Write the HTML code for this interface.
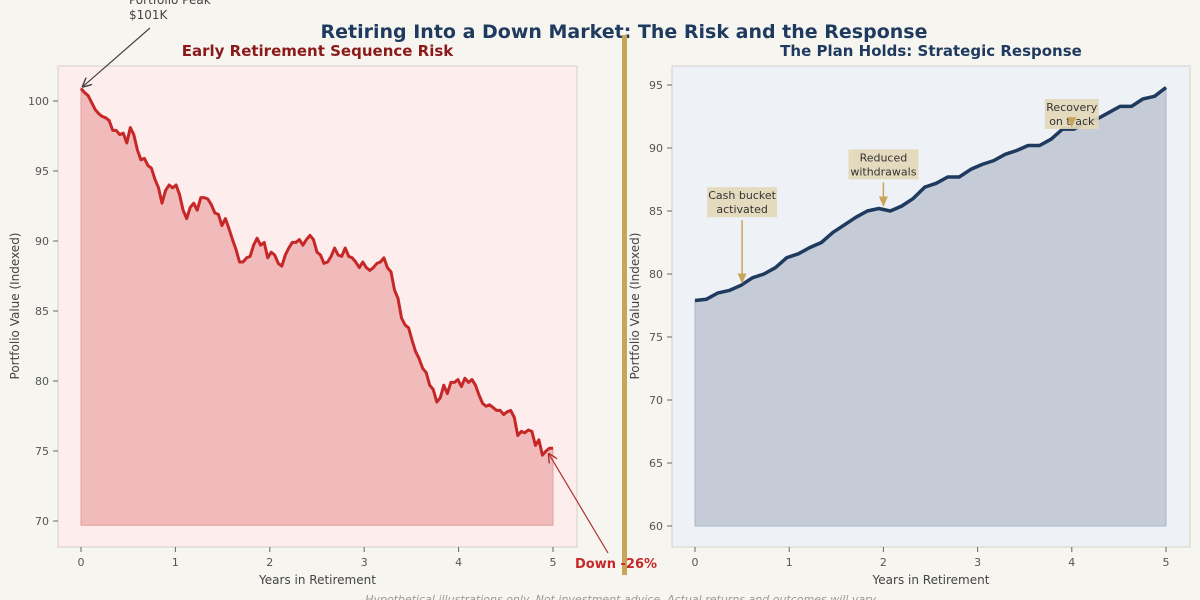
<!DOCTYPE html>
<html><head><meta charset="utf-8"><style>
html,body{margin:0;padding:0;background:#f7f5f0;}
svg{display:block;font-family:"DejaVu Sans","Liberation Sans",sans-serif;}
</style></head><body>
<svg id="c" width="1200" height="600" viewBox="0 0 1200 600">
<text x="624" y="38" text-anchor="middle" font-size="19" font-weight="bold" fill="#1f3a5f">Retiring Into a Down Market: The Risk and the Response</text>
<rect x="622" y="35" width="5" height="540" fill="#c9a55a"/>
<text x="622" y="603" text-anchor="middle" font-size="11" font-style="italic" fill="#999">Hypothetical illustrations only. Not investment advice. Actual returns and outcomes will vary.</text>
</svg>
<script>
const leftValues=[100.9,100.6,100.4,99.9,99.4,99.1,98.9,98.8,98.6,97.9,97.9,97.6,97.7,97.0,98.1,97.6,96.5,95.8,95.9,95.4,95.2,94.4,93.8,92.7,93.6,94.0,93.8,94.0,93.3,92.2,91.6,92.4,92.7,92.2,93.1,93.1,93.0,92.6,92.0,91.9,91.1,91.6,90.9,90.1,89.4,88.5,88.5,88.8,88.9,89.7,90.2,89.7,89.9,88.8,89.2,89.0,88.4,88.2,89.0,89.5,89.9,89.9,90.1,89.7,90.1,90.4,90.1,89.2,89.0,88.4,88.5,88.9,89.5,89.0,88.9,89.5,88.9,88.8,88.5,88.1,88.5,88.1,87.9,88.1,88.4,88.5,88.8,88.1,87.8,86.5,85.9,84.5,84.0,83.8,82.9,82.1,81.6,80.9,80.6,79.7,79.4,78.5,78.8,79.7,79.1,79.9,79.9,80.1,79.6,80.2,79.9,80.1,79.7,79.0,78.4,78.2,78.3,78.1,77.9,77.9,77.6,77.8,77.9,77.4,76.1,76.4,76.3,76.5,76.4,75.4,75.8,74.7,75.0,75.2,75.2];
const rightValues=[77.9,78.0,78.5,78.7,79.1,79.7,80.0,80.5,81.3,81.6,82.1,82.5,83.3,83.9,84.5,85.0,85.2,85.0,85.4,86.0,86.9,87.2,87.7,87.7,88.3,88.7,89.0,89.5,89.8,90.2,90.2,90.7,91.5,91.5,92.0,92.3,92.8,93.3,93.3,93.9,94.1,94.8];
const xTicks=[0,1,2,3,4,5];
const leftYTicks=[70,75,80,85,90,95,100];
const rightYTicks=[60,65,70,75,80,85,90,95];
const rightNotes=["Cash bucket|activated","Reduced|withdrawals","Recovery|on track"];
const rightNoteYears=[0.5,2.0,4.0];
const rightNoteLabelValues=[85.7,88.7,92.7];

const svg=document.getElementById('c');
const NS='http://www.w3.org/2000/svg';
function mk(tag,attrs,parent){const e=document.createElementNS(NS,tag);for(const k in attrs)e.setAttribute(k,attrs[k]);(parent||svg).appendChild(e);return e;}

function panel(o){
  const g=mk('g',{});
  
  
  const X=v=>o.x0+(v-0)*(o.x5-o.x0)/5;
  const Y=v=>o.yA+(v-o.vA)*(o.yB-o.yA)/(o.vB-o.vA);
  const bg=mk('rect',{x:o.L,y:66,width:o.R-o.L,height:481,fill:o.bg,stroke:'#d4d0cc','stroke-width':1},g);
  
  
  const n=o.vals.length;
  const pts=o.vals.map((v,i)=>[X(5*i/(n-1)),Y(v)]);
  let d='M'+pts.map(p=>p[0].toFixed(1)+','+p[1].toFixed(1)).join('L');
  const base=Y(o.base);
  const area=mk('path',{d:d+'L'+X(5)+','+base+'L'+X(0)+','+base+'Z',fill:o.fill,stroke:o.fillEdge,'stroke-width':1},g);
  
  
  const line=mk('path',{d:d,fill:'none',stroke:o.line,'stroke-width':o.lw,'stroke-linejoin':'round'},g);
  
  
  xTicks.forEach(t=>{
    mk('line',{x1:X(t),x2:X(t),y1:547,y2:552,stroke:'#666'},g);
    const tx=mk('text',{x:X(t),y:566,'text-anchor':'middle','font-size':11,fill:'#555'},g);
    tx.textContent=t;
    
    
  });
  o.yt.forEach(t=>{
    mk('line',{x1:o.L-5,x2:o.L,y1:Y(t),y2:Y(t),stroke:'#666'},g);
    const tx=mk('text',{x:o.L-9,y:Y(t)+4,'text-anchor':'end','font-size':11,fill:'#555'},g);
    tx.textContent=t;
    
    
  });
  const xl=mk('text',{x:(o.L+o.R)/2,y:584,'text-anchor':'middle','font-size':12,fill:'#444'},g);
  xl.textContent='Years in Retirement';
  
  
  const yl=mk('text',{x:o.yl,y:306,'text-anchor':'middle','font-size':12,fill:'#444',transform:'rotate(-90 '+o.yl+' 306)'},g);
  yl.textContent='Portfolio Value (Indexed)';
  
  
  const st=mk('text',{x:(o.L+o.R)/2,y:56,'text-anchor':'middle','font-size':15,'font-weight':'bold',fill:o.tc},g);
  st.textContent=o.title;
  
  
  return {g,X,Y};
}

mk('defs',{}).innerHTML='<marker id="ah" markerWidth="8" markerHeight="8" refX="7" refY="4" orient="auto"><path d="M0,0L8,4L0,8" fill="none" stroke="#444" stroke-width="1.2"/></marker><marker id="ahr" markerWidth="8" markerHeight="8" refX="7" refY="4" orient="auto"><path d="M0,0L8,4L0,8" fill="none" stroke="#b03030" stroke-width="1.2"/></marker><marker id="ahg" markerWidth="8" markerHeight="8" refX="6" refY="4" orient="auto"><path d="M0,1L7,4L0,7Z" fill="#c9a55a"/></marker>';

const Lp=panel({name:'left-panel',L:58,R:577,x0:81,x5:553,yA:101,vA:100,yB:521,vB:70,bg:'#fdeeed',vals:leftValues,base:69.7,fill:'#f1babb',fillEdge:'#e2a0a0',line:'#c62828',lw:3,yt:leftYTicks,yl:19,title:'Early Retirement Sequence Risk',tc:'#8b1a1a'});
const Rp=panel({name:'right-panel',L:672,R:1190,x0:695,x5:1166,yA:85,vA:95,yB:526,vB:60,bg:'#eef2f7',vals:rightValues,base:60,fill:'#c5ccd8',fillEdge:'#a8b4c8',line:'#1f3a5f',lw:3.5,yt:rightYTicks,yl:639,title:'The Plan Holds: Strategic Response',tc:'#1f3a5f'});

const pk=mk('text',{x:129,y:4,'font-size':12,fill:'#444'});
pk.innerHTML='<tspan x="129" y="4">Portfolio Peak</tspan><tspan x="129" y="19">$101K</tspan>';


const pv=leftValues[0];
const pa=mk('line',{x1:150,y1:28,x2:Lp.X(0)+2,y2:Lp.Y(pv)-2,stroke:'#444','stroke-width':1.2,'marker-end':'url(#ah)'});


const lv=leftValues[leftValues.length-1];
const da=mk('line',{x1:608,y1:553,x2:Lp.X(5)-4,y2:Lp.Y(lv)+6,stroke:'#b03030','stroke-width':1.2,'marker-end':'url(#ahr)'});


const dt=mk('text',{x:616,y:568,'text-anchor':'middle','font-size':13,'font-weight':'bold',fill:'#c62828'});
dt.textContent='Down -26%';



const nR=rightValues.length;
rightNoteYears.forEach((yr,k)=>{
  const idx=Math.round(yr/5*(nR-1));
  const px=Rp.X(yr), py=Rp.Y(rightValues[idx]);
  const cy=Rp.Y(rightNoteLabelValues[k]);
  const lines=rightNotes[k].split('|');
  const g=mk('g',{});
  
  
  const w=k==2?54:70;
  mk('rect',{x:px-w/2,y:cy-15,width:w,height:30,fill:'#e3d8b8',opacity:0.92},g);
  lines.forEach((s,j)=>{const t=mk('text',{x:px,y:cy-3+j*14,'text-anchor':'middle','font-size':11,fill:'#333'},g);t.textContent=s;});
  mk('line',{x1:px,y1:(k==2?cy+8:cy+18),x2:px,y2:py-3,stroke:'#c9a55a','stroke-width':1.5,'marker-end':'url(#ahg)'},g);
});
</script>
</body></html>
